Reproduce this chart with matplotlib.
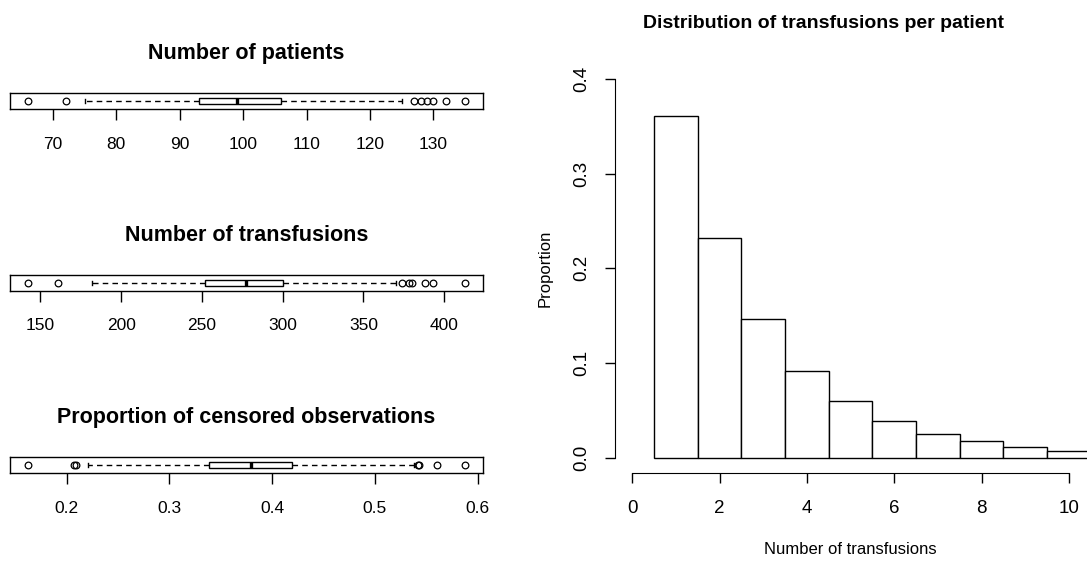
import numpy as np
import matplotlib.pyplot as plt

plt.rcParams['font.family'] = ['Liberation Sans', 'DejaVu Sans']

# boxplot summaries
titulos = ["Number of patients", "Number of transfusions",
           "Proportion of censored observations"]
q1 = [93, 252, 0.339]
medianas = [99, 277, 0.380]
q3 = [106, 300, 0.419]
bigote_inf = [75, 182, 0.221]
bigote_sup = [125, 370, 0.538]
atipicos = [
    [66, 72, 127, 128, 129, 130, 132, 135],
    [142, 161, 374, 378, 380, 388, 393, 413],
    [0.162, 0.207, 0.209, 0.542, 0.543, 0.561, 0.588],
]
marcas = [
    [70, 80, 90, 100, 110, 120, 130],
    [150, 200, 250, 300, 350, 400],
    [0.2, 0.3, 0.4, 0.5, 0.6],
]

# histogram
n_transfusiones = [1, 2, 3, 4, 5, 6, 7, 8, 9, 10]
proporciones = [0.361, 0.232, 0.146, 0.092, 0.060, 0.039, 0.025, 0.017, 0.011, 0.007]
marcas_x = [0, 2, 4, 6, 8, 10]
marcas_y = [0.0, 0.1, 0.2, 0.3, 0.4]

W, H = 1089, 561
fig = plt.figure(figsize=(W / 100, H / 100), dpi=100)

# pixel positions of the three box frames (top, bottom)
cajas_px = [(92.7, 109.0), (274.8, 290.5), (456.7, 473.3)]

for i in range(3):
    top, bot = cajas_px[i]
    ax = fig.add_axes([10 / W, 1 - bot / H, 472.7 / W, (bot - top) / H])
    stats = [dict(med=medianas[i], q1=q1[i], q3=q3[i],
                  whislo=bigote_inf[i], whishi=bigote_sup[i],
                  fliers=atipicos[i])]
    ax.bxp(stats, positions=[1], widths=0.37, vert=False, patch_artist=True,
           boxprops=dict(facecolor='white', edgecolor='black', linewidth=1),
           medianprops=dict(color='black', linewidth=2.4, solid_capstyle='butt'),
           whiskerprops=dict(color='black', linewidth=1, linestyle=(0, (4, 3))),
           capprops=dict(color='black', linewidth=1),
           capwidths=0.25,
           flierprops=dict(marker='o', markersize=4.8, markerfacecolor='none',
                           markeredgecolor='black', markeredgewidth=0.9))
    todos = atipicos[i] + [bigote_inf[i], bigote_sup[i]]
    lo, hi = min(todos), max(todos)
    extra = 0.04 * (hi - lo)
    ax.set_xlim(lo - extra, hi + extra)
    ax.set_ylim(0.5, 1.5)
    ax.set_yticks([])
    ax.set_xticks(marcas[i])
    ax.set_xticklabels([f"{m:g}" for m in marcas[i]])
    ax.tick_params(axis='x', length=8, width=1, pad=12, labelsize=12.5)
    for s in ax.spines.values():
        s.set_linewidth(1)
    ax.set_title(titulos[i], fontsize=15.5, fontweight='bold', pad=24.5)

# histogram panel
hx0, hx1, hy0, hy1 = 614.7, 1086.5, 64.0, 472.7
ax = fig.add_axes([hx0 / W, 1 - hy1 / H, (hx1 - hx0) / W, (hy1 - hy0) / H])
ax.bar(n_transfusiones, proporciones, width=1, color='white',
       edgecolor='black', linewidth=1)
ax.set_xlim(-0.4, 10.4)
ax.set_ylim(-0.016, 0.416)
ax.spines['top'].set_visible(False)
ax.spines['right'].set_visible(False)
ax.spines['left'].set_bounds(0, 0.4)
ax.spines['bottom'].set_bounds(0, 10)
ax.set_xticks(marcas_x)
ax.set_yticks(marcas_y)
ax.set_yticklabels([f"{m:.1f}" for m in marcas_y], rotation=90, va='center')
ax.tick_params(length=7, width=1, labelsize=13.5)
ax.tick_params(axis='x', pad=13)
ax.tick_params(axis='y', pad=10.5)
ax.set_title("Distribution of transfusions per patient", fontsize=14,
             fontweight='bold', pad=26, x=0.443)
ax.set_xlabel("Number of transfusions", fontsize=12)
ax.xaxis.set_label_coords(0.5, -0.17)
fig.text(545 / W, 1 - 268 / H, "Proportion", rotation=90, fontsize=12,
         ha='center', va='center')

plt.savefig("out.png", dpi=100)
